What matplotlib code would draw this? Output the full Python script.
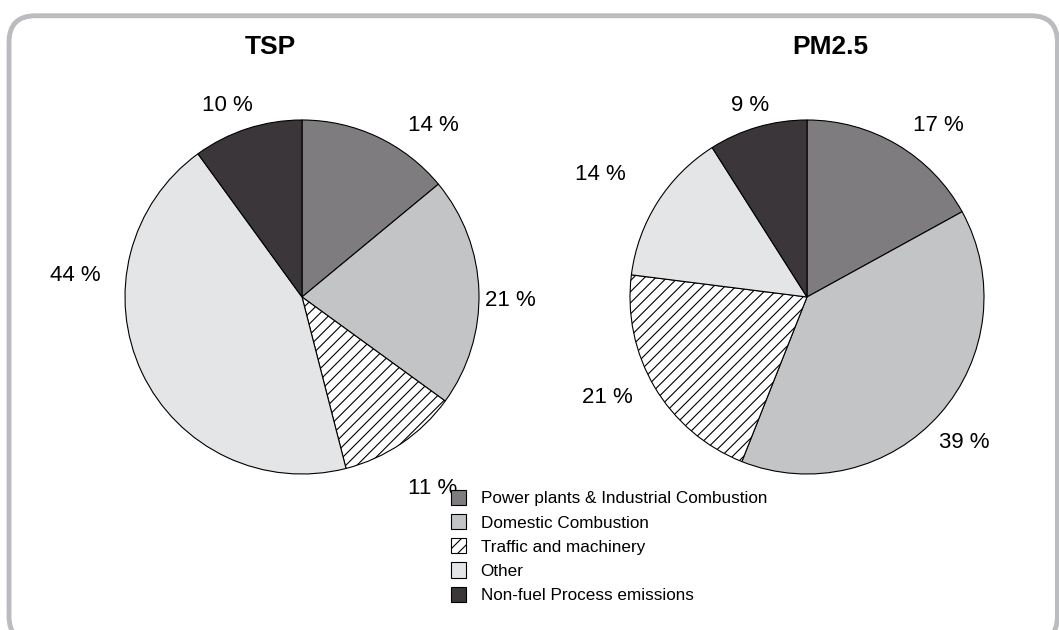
import matplotlib
matplotlib.use("Agg")
import matplotlib.pyplot as plt
from matplotlib.patches import FancyBboxPatch, Patch

plt.rcParams["font.family"] = ["Liberation Sans", "DejaVu Sans"]
plt.rcParams["hatch.linewidth"] = 0.8

# categories and shares (%)
categories = [
    "Power plants & Industrial Combustion",
    "Domestic Combustion",
    "Traffic and machinery",
    "Other",
    "Non-fuel Process emissions",
]
tsp_values = [14, 21, 11, 44, 10]
pm25_values = [17, 39, 21, 14, 9]
titles = ["TSP", "PM2.5"]

colors = ["#7f7c80", "#c2c4c6", "white", "#e4e5e6", "#3a3639"]
hatches = [None, None, "///", None, None]

# label positions relative to pie (radius units), as laid out in the original
tsp_label_pos = [(0.74, 0.97), (1.18, -0.02), (0.74, -1.08), (-1.28, 0.12), (-0.42, 1.08)]
pm25_label_pos = [(0.74, 0.97), (0.89, -0.82), (-1.13, -0.57), (-1.17, 0.69), (-0.32, 1.08)]
# title x offset from the pie centre (radius units)
title_dx = [-0.18, 0.13]


def draw_pie(ax, values, title, label_pos, tdx):
    wedges, texts = ax.pie(
        values,
        colors=colors,
        startangle=90,
        counterclock=False,
        labels=[f"{v} %" for v in values],
        labeldistance=1.2,
        wedgeprops={"edgecolor": "black", "linewidth": 0.8},
        textprops={"fontsize": 16},
    )
    for w, h in zip(wedges, hatches):
        if h:
            w.set_hatch(h)
    for t, pos in zip(texts, label_pos):
        t.set_position(pos)
        t.set_ha("center")
        t.set_va("center")
    ax.set_xlim(-1, 1)
    ax.set_ylim(-1, 1)
    ax.set_aspect("equal")
    ax.text(tdx, 1 + (120 - 47) / 177, title, fontsize=19, fontweight="bold",
            ha="center", va="center")
    return wedges


fig = plt.figure(figsize=(10.59, 6.3), dpi=100)

# rounded grey frame
frame = FancyBboxPatch(
    (0.0085, -0.02), 0.99, 0.995,
    boxstyle="round,pad=0,rounding_size=0.025",
    transform=fig.transFigure, facecolor="none", edgecolor="#bbbcbf",
    linewidth=3.5, mutation_aspect=1059 / 630, clip_on=False, zorder=-1,
)
fig.patches.append(frame)

W, H = 1059, 630
R = 177
centers = [(302, 297), (807, 297)]
values_all = [tsp_values, pm25_values]
pos_all = [tsp_label_pos, pm25_label_pos]

for (cx, cy), vals, title, lp, tdx in zip(centers, values_all, titles, pos_all, title_dx):
    ax = fig.add_axes([(cx - R) / W, 1 - (cy + R) / H, 2 * R / W, 2 * R / H])
    draw_pie(ax, vals, title, lp, tdx)

handles = [
    Patch(facecolor=c, edgecolor="black", linewidth=0.8, hatch=h)
    for c, h in zip(colors, hatches)
]
fig.legend(
    handles, categories,
    loc="upper left", bbox_to_anchor=(444 / W, 1 - 483 / H),
    frameon=False, fontsize=12.3, handlelength=0.9, handleheight=1.0,
    handletextpad=0.85, labelspacing=0.45, borderaxespad=0,
)

fig.savefig("out.png", dpi=100)
